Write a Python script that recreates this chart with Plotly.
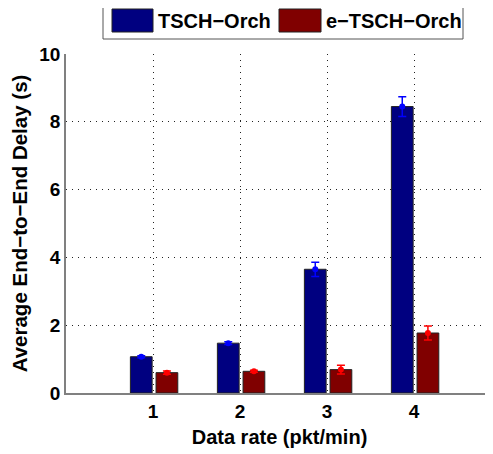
import plotly.graph_objects as go

# ---- data ----
rates = [1, 2, 3, 4]
tick_labels = ["1", "2", "3", "4"]
tsch_orch = [1.07, 1.47, 3.65, 8.45]
tsch_orch_err = [0.03, 0.04, 0.21, 0.29]
e_tsch_orch = [0.60, 0.64, 0.69, 1.77]
e_tsch_orch_err = [0.05, 0.03, 0.13, 0.21]
series_names = ["TSCH−Orch", "e−TSCH−Orch"]

# page has an 8px body margin; compensate
OFF = 8
W, H = 493 - OFF, 454 - OFF
L, R, T, B = 66 - OFF, 0, 54 - OFF, 61
FONT = "Liberation Sans, Arial, sans-serif"

bar_w = 0.25
offs = [-0.26, 0.035]
bar_colors = ["#000080", "#800000"]
err_colors = ["#0000FF", "#FF0000"]

fig = go.Figure()
for name, vals, errs, off, bc, ec in zip(series_names, [tsch_orch, e_tsch_orch],
                                          [tsch_orch_err, e_tsch_orch_err],
                                          offs, bar_colors, err_colors):
    fig.add_trace(go.Bar(x=rates, y=vals, width=bar_w, offset=off, name=name,
                         marker=dict(color=bc, line=dict(color="#222222", width=1)),
                         showlegend=False))
    fig.add_trace(go.Scatter(x=[r + off + bar_w / 2 for r in rates], y=vals,
                             mode="markers",
                             marker=dict(color=ec, size=6),
                             error_y=dict(type="data", array=errs, color=ec,
                                          thickness=1.5, width=4),
                             showlegend=False))

pw = W - L - R
ph = H - T - B

# convert reference-image pixel coords to paper coords
def px(xp):
    return (xp - 66) / pw

def py(yp):
    return (393 - yp) / ph

shapes = [
    dict(type="rect", xref="paper", yref="paper", x0=px(103), x1=px(463),
         y0=py(39), y1=py(3), line=dict(color="#555555", width=1),
         fillcolor="white", layer="above"),
    dict(type="rect", xref="paper", yref="paper", x0=px(112), x1=px(153),
         y0=py(32), y1=py(9), line=dict(color="#222222", width=1),
         fillcolor=bar_colors[0], layer="above"),
    dict(type="rect", xref="paper", yref="paper", x0=px(279), x1=px(321),
         y0=py(32), y1=py(9), line=dict(color="#222222", width=1),
         fillcolor=bar_colors[1], layer="above"),
]
annotations = [
    dict(text="<b>%s</b>" % series_names[0], xref="paper", yref="paper",
         x=px(156), y=py(21), xanchor="left", yanchor="middle", showarrow=False,
         font=dict(family=FONT, size=20, color="black")),
    dict(text="<b>%s</b>" % series_names[1], xref="paper", yref="paper",
         x=px(324), y=py(21), xanchor="left", yanchor="middle", showarrow=False,
         font=dict(family=FONT, size=20, color="black")),
]

grid_dash = "1px,5px"

fig.update_layout(
    width=W, height=H,
    margin=dict(l=L, r=R, t=T, b=B, pad=0, autoexpand=False),
    paper_bgcolor="white", plot_bgcolor="white",
    barmode="overlay",
    font=dict(family=FONT, color="black"),
    shapes=shapes, annotations=annotations,
    xaxis=dict(range=[0, pw / 87.0], tickmode="array", tickvals=rates,
               ticktext=["<b>%s</b>" % t for t in tick_labels],
               tickfont=dict(size=19), showgrid=True, gridcolor="#222222",
               griddash=grid_dash, gridwidth=1, showline=True, linecolor="#808080",
               linewidth=2, ticks="", zeroline=False, automargin=False,
               title=dict(text="<b>Data rate (pkt/min)</b>", font=dict(size=20),
                          standoff=9)),
    yaxis=dict(range=[0, 10], tickmode="array", tickvals=[0, 2, 4, 6, 8, 10],
               ticktext=["<b>%d</b>" % v for v in [0, 2, 4, 6, 8, 10]],
               tickfont=dict(size=19), showgrid=True, gridcolor="#222222",
               griddash=grid_dash, gridwidth=1, showline=True, linecolor="#808080",
               linewidth=1.5, ticks="", zeroline=False, automargin=False,
               title=dict(text="<b>Average End−to−End Delay (s)</b>",
                          font=dict(size=20.5), standoff=6)),
)

fig.write_html("out.html")
